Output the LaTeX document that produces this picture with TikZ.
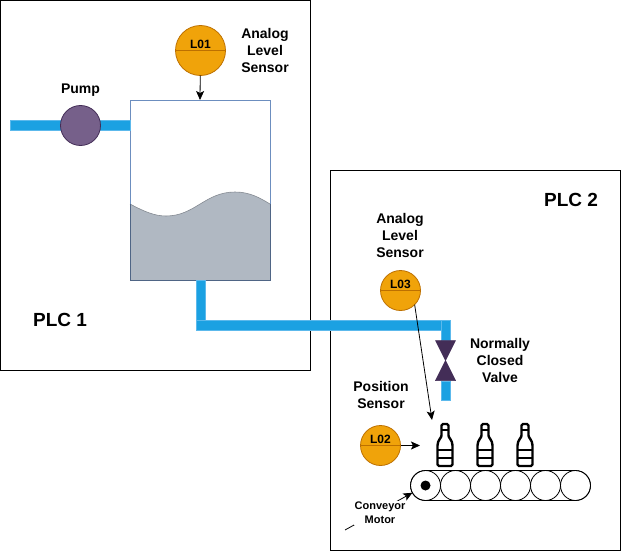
\documentclass[tikz,border=0pt]{standalone}
\usepackage{fontspec}
\setmainfont{Liberation Sans}
\usetikzlibrary{arrows.meta,positioning}
\definecolor{pPipe}{HTML}{1BA1E2}
\definecolor{pPipeEdge}{HTML}{5CB9EC}
\definecolor{pTank}{HTML}{6C8EBF}
\definecolor{pLiquid}{HTML}{B0B8C2}
\definecolor{pLiquidEdge}{HTML}{4F6585}
\definecolor{pSensor}{HTML}{F0A30A}
\definecolor{pSensorEdge}{HTML}{BD7000}
\definecolor{pPump}{HTML}{76608A}
\definecolor{pValve}{HTML}{432D57}

\begin{document}
\begin{tikzpicture}[
  x=1pt,
  y=-1pt,
  every node/.style={font=\fontsize{14}{17}\selectfont\bfseries, align=center},
  plcbox/.style={draw=black, line width=1pt},
  pipe/.style={draw=pPipeEdge, fill=pPipe, line width=1pt},
  tankbox/.style={draw=pTank, line width=1pt, minimum width=140pt, minimum height=180pt, inner sep=0pt, outer sep=0pt},
  sensor/.style={circle, draw=pSensorEdge, fill=pSensor, line width=0.8pt, inner sep=0pt, outer sep=0pt,
    path picture={\draw[pSensorEdge, line width=0.8pt] (path picture bounding box.west) -- (path picture bounding box.east);}},
  sensorlabel/.style={font=\fontsize{12}{13}\selectfont\bfseries, inner sep=1pt},
  pumpnode/.style={circle, draw=pValve, fill=pPump, line width=0.8pt, minimum size=40pt, inner sep=0pt, outer sep=0pt},
  valvepart/.style={draw=pValve, fill=pValve, line width=0.5pt},
  roller/.style={circle, draw=black, line width=0.8pt, minimum size=30pt, inner sep=0pt, outer sep=0pt},
  link/.style={draw=black, line width=0.8pt, -{Stealth[inset=2pt, length=9pt, width=8pt]}},
  bottle/.pic={
    \draw[line width=2.4pt, rounded corners=1.5pt] (-3.5,1) -- (3.5,1) -- (3.5,11)
      .. controls (3.5,15) and (7.5,17) .. (7.5,24) -- (7.5,43) -- (-7.5,43) -- (-7.5,24)
      .. controls (-7.5,17) and (-3.5,15) .. (-3.5,11) -- cycle;
    \draw[line width=2pt] (-3.5,7) -- (3.5,7);
    \draw[line width=2pt] (-7.5,27) -- (7.5,27);
    \draw[line width=2pt] (-7.5,34.5) -- (7.5,34.5);
  }
]
  \useasboundingbox (0,0) rectangle (621,551);

  % plc frames
  \draw[plcbox] (0.5,0.5) rectangle (310,370.5);
  \draw[plcbox] (330,170.5) rectangle (620.5,550);

  % tank
  \fill[pLiquid] (130,204) .. controls (145,212) and (155,216) .. (166,216)
    .. controls (195,216) and (205,192) .. (235,192)
    .. controls (250,192) and (260,198) .. (270,204) -- (270,280) -- (130,280) -- cycle;
  \draw[pLiquid!75!black, line width=0.6pt] (130,204) .. controls (145,212) and (155,216) .. (166,216)
    .. controls (195,216) and (205,192) .. (235,192)
    .. controls (250,192) and (260,198) .. (270,204);
  \node[tankbox] (tank) at (200,190) {};
  \draw[pLiquidEdge, line width=1pt] (130,204) -- (130,280) -- (270,280) -- (270,204);

  % pipes
  \draw[pipe] (10.5,120.5) rectangle (130,130);
  \draw[pipe] (196,280.5) rectangle (205.5,320.5);
  \draw[pipe] (196,320.5) rectangle (450.5,330);
  \draw[pipe] (441,320.5) rectangle (450.5,340);
  \draw[pipe] (441,381) rectangle (450.5,400);

  % valve
  \draw[valvepart] (435.5,340.5) -- (455.5,340.5) -- (445.5,360.5) -- cycle;
  \draw[valvepart] (435.5,380.5) -- (455.5,380.5) -- (445.5,360.5) -- cycle;

  \node[pumpnode] (pump) at (80.5,125.5) {};
  \node[sensor, minimum size=50pt] (L01) at (200.5,50.5) {};
  \node[sensor, minimum size=40pt] (L03) at (400.5,290.5) {};
  \node[sensor, minimum size=40pt] (L02) at (380.5,445.5) {};
  \node[sensorlabel, above=0.5pt of L01.center] (L01text) {L01};
  \node[sensorlabel, above=0.5pt of L03.center] (L03text) {L03};
  \node[sensorlabel, above=0.5pt of L02.center] (L02text) {L02};

  % bottles
  \pic at (445,423) {bottle};
  \pic at (485,423) {bottle};
  \pic at (525,423) {bottle};

  % conveyor
  \draw[line width=0.8pt, rounded corners=15pt] (410.5,470.5) rectangle (590.5,500.5);
  \foreach \i/\xx in {1/425.5,2/455.5,3/485.5,4/515.5,5/545.5,6/575.5}
    \node[roller] (roller\i) at (\xx,485.5) {};
  \node[circle, fill=black, minimum size=10pt, inner sep=0pt] (motor) at (425.5,485.5) {};

  \coordinate (L02end) at (420,445.5);
  \coordinate (L03end) at (432,420);
  \coordinate (motorstart) at (345,530);

  \draw[link] (L01) -- (tank.north);
  \draw[link] (L02) -- (L02end);
  \draw[link] (L03.south east) -- (L03end);
  \draw[link] (motorstart) -- (roller1);

  % labels
  \node (pumplabel) at (80.5,90) {Pump};
  \node (L01label) at (265,50) {Analog\\Level\\Sensor};
  \node (L03label) at (400,235) {Analog\\Level\\Sensor};
  \node (L02label) at (381,395) {Position\\Sensor};
  \node (valvelabel) at (500,360) {Normally\\Closed\\Valve};
  \node[font=\fontsize{11}{14}\selectfont\bfseries, fill=white, inner sep=1pt] (motorlabel) at (380,513) {Conveyor\\Motor};
  \node[font=\fontsize{19}{21}\selectfont\bfseries] (plc1) at (60,320) {PLC 1};
  \node[font=\fontsize{19}{21}\selectfont\bfseries] (plc2) at (571,200) {PLC 2};
\end{tikzpicture}
\end{document}
